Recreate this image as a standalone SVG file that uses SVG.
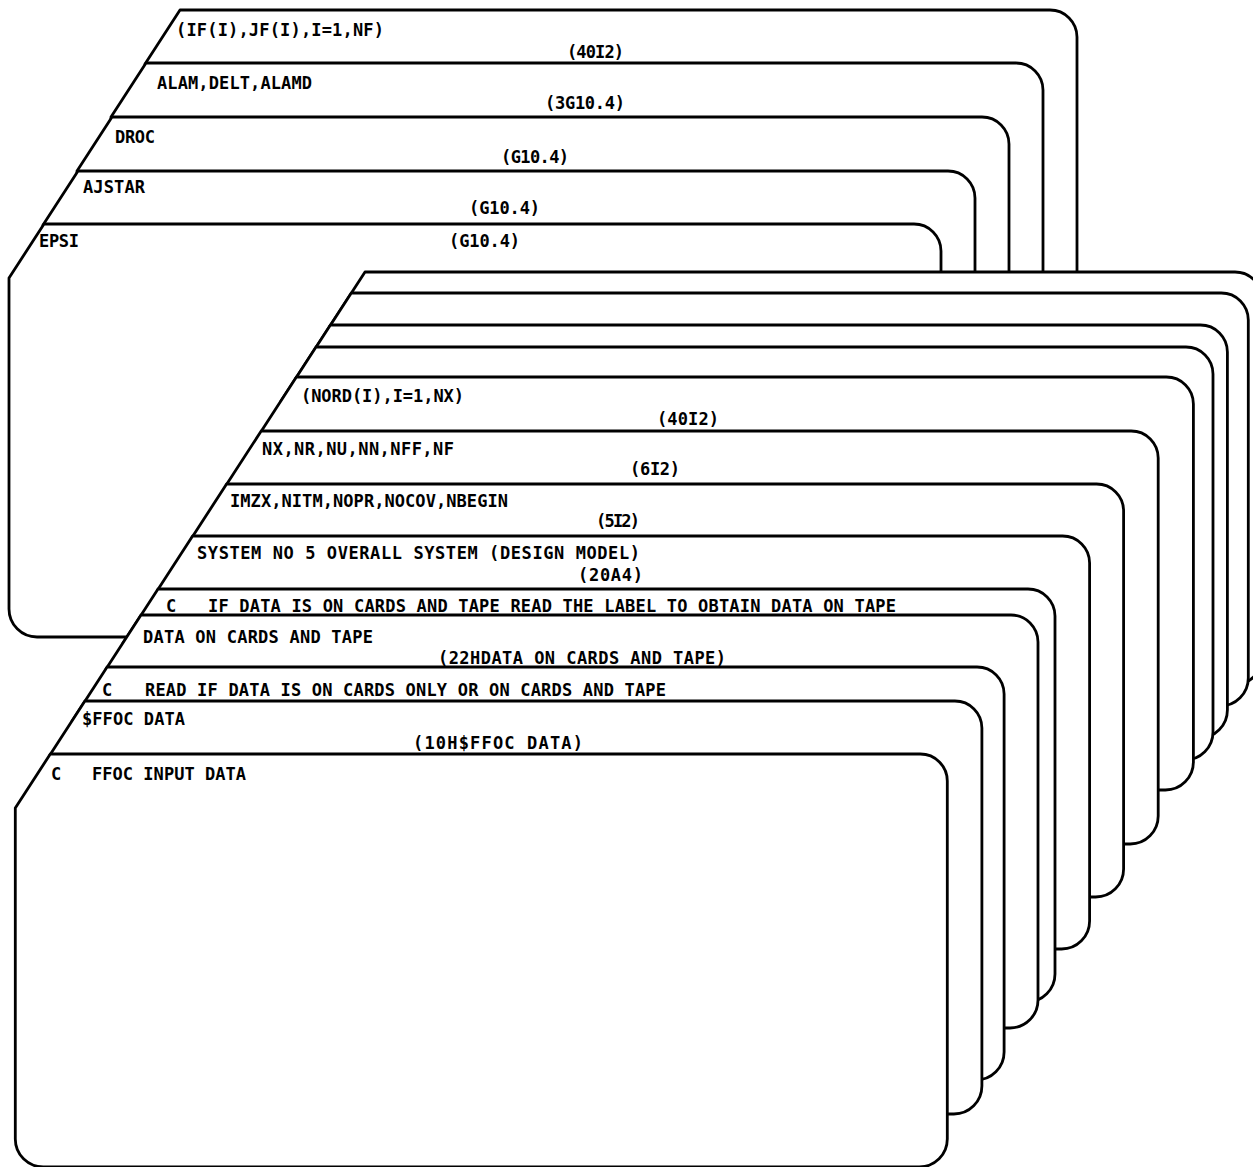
<svg xmlns="http://www.w3.org/2000/svg" xmlns:xlink="http://www.w3.org/1999/xlink" width="1253" height="1167" viewBox="0 0 1253 1167">
<style>
.card{fill:#fff;stroke:#000;stroke-width:2.8;stroke-linejoin:round}
text{font-family:"DejaVu Sans Mono","Liberation Mono",monospace;font-size:17px;font-weight:bold;fill:#000}
</style>
<defs>
<path id="card" d="M35,0 H905 A27,27 0 0 1 932,27 V385 A28,28 0 0 1 904,413 H28 A28,28 0 0 1 0,385 V54 Z"/>
</defs>
<rect width="1253" height="1167" fill="#fff"/>
<g id="back-deck">
<g id="card-if"><use xlink:href="#card" class="card" x="145" y="10"/>
<text x="176" y="36" textLength="208" lengthAdjust="spacing">(IF(I),JF(I),I=1,NF)</text>
<text x="567" y="58" textLength="57" lengthAdjust="spacing">(40I2)</text></g>
<g id="card-alam"><use xlink:href="#card" class="card" x="111" y="63"/>
<text x="157" y="89" textLength="155" lengthAdjust="spacing">ALAM,DELT,ALAMD</text>
<text x="545" y="109" textLength="80" lengthAdjust="spacing">(3G10.4)</text></g>
<g id="card-droc"><use xlink:href="#card" class="card" x="77" y="117"/>
<text x="115" y="143" textLength="40" lengthAdjust="spacing">DROC</text>
<text x="501" y="163" textLength="68" lengthAdjust="spacing">(G10.4)</text></g>
<g id="card-ajstar"><use xlink:href="#card" class="card" x="43" y="171"/>
<text x="83" y="193" textLength="62" lengthAdjust="spacing">AJSTAR</text>
<text x="469" y="214" textLength="71" lengthAdjust="spacing">(G10.4)</text></g>
<g id="card-epsi"><use xlink:href="#card" class="card" x="9" y="224"/>
<text x="39" y="247" textLength="40" lengthAdjust="spacing">EPSI</text>
<text x="449" y="247" textLength="71" lengthAdjust="spacing">(G10.4)</text></g>
</g>
<g id="front-deck">
<g id="card-a"><use xlink:href="#card" class="card" x="330" y="272"/></g>
<g id="card-b"><use xlink:href="#card" class="card" x="316.3" y="293"/></g>
<g id="card-c"><use xlink:href="#card" class="card" x="295.4" y="325"/></g>
<g id="card-d"><use xlink:href="#card" class="card" x="281" y="347"/></g>
<g id="card-nord"><use xlink:href="#card" class="card" x="261.4" y="377"/>
<text x="301" y="402" textLength="163" lengthAdjust="spacing">(NORD(I),I=1,NX)</text>
<text x="657" y="425" textLength="62" lengthAdjust="spacing">(40I2)</text></g>
<g id="card-nx"><use xlink:href="#card" class="card" x="226.2" y="431"/>
<text x="262" y="455" textLength="192" lengthAdjust="spacing">NX,NR,NU,NN,NFF,NF</text>
<text x="630" y="475" textLength="50" lengthAdjust="spacing">(6I2)</text></g>
<g id="card-imzx"><use xlink:href="#card" class="card" x="191.6" y="484"/>
<text x="230" y="507" textLength="278" lengthAdjust="spacing">IMZX,NITM,NOPR,NOCOV,NBEGIN</text>
<text x="596" y="527" textLength="44" lengthAdjust="spacing">(5I2)</text></g>
<g id="card-system"><use xlink:href="#card" class="card" x="157.6" y="536"/>
<text x="197" y="559" textLength="443" lengthAdjust="spacing">SYSTEM NO 5 OVERALL SYSTEM (DESIGN MODEL)</text>
<text x="578" y="581" textLength="65" lengthAdjust="spacing">(20A4)</text></g>
<g id="card-cif"><use xlink:href="#card" class="card" x="123" y="589"/>
<text y="612"><tspan x="166">C</tspan><tspan x="208" textLength="688" lengthAdjust="spacing">IF DATA IS ON CARDS AND TAPE READ THE LABEL TO OBTAIN DATA ON TAPE</tspan></text></g>
<g id="card-data"><use xlink:href="#card" class="card" x="106" y="615"/>
<text x="143" y="643" textLength="230" lengthAdjust="spacing">DATA ON CARDS AND TAPE</text>
<text x="438" y="664" textLength="288" lengthAdjust="spacing">(22HDATA ON CARDS AND TAPE)</text></g>
<g id="card-read"><use xlink:href="#card" class="card" x="72.1" y="667"/>
<text y="696"><tspan x="102">C</tspan><tspan x="145" textLength="521" lengthAdjust="spacing">READ IF DATA IS ON CARDS ONLY OR ON CARDS AND TAPE</tspan></text></g>
<g id="card-ffoc-data"><use xlink:href="#card" class="card" x="49.9" y="701"/>
<text x="82" y="725" textLength="103" lengthAdjust="spacing">$FFOC DATA</text>
<text x="413" y="749" textLength="170" lengthAdjust="spacing">(10H$FFOC DATA)</text></g>
<g id="card-ffoc-input"><use xlink:href="#card" class="card" x="15.3" y="754"/>
<text y="780"><tspan x="51">C</tspan><tspan x="92" textLength="154" lengthAdjust="spacing">FFOC INPUT DATA</tspan></text></g>
</g>
</svg>
